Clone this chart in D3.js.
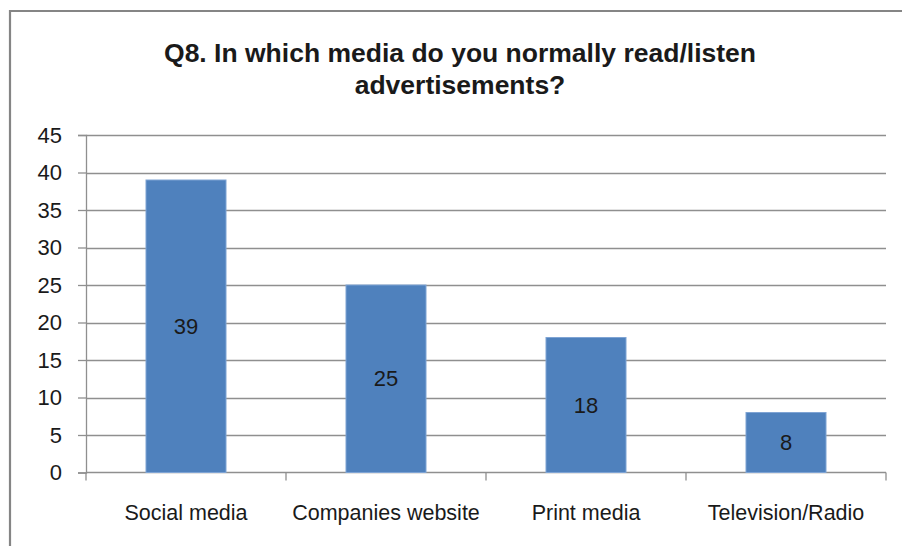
<!DOCTYPE html>
<html>
<head>
<meta charset="utf-8">
<script src="https://cdn.jsdelivr.net/npm/d3@7"></script>
<style>
  html, body { margin: 0; padding: 0; background: #fff; }
  svg { display: block; }
  text { font-family: "Liberation Sans", Arial, sans-serif; fill: #1a1a1a; }
</style>
</head>
<body>
<svg id="chart" width="902" height="546"></svg>
<script>
// Survey answers: preferred media for advertisements
const categories = ["Social media", "Companies website", "Print media", "Television/Radio"];
const counts = [39, 25, 18, 8];
const yTicks = [0, 5, 10, 15, 20, 25, 30, 35, 40, 45];
const titleLines = ["Q8. In which media do you normally read/listen", "advertisements?"];

const svg = d3.select("#chart");
const W = 902, H = 546;
const plot = { left: 86, right: 886, top: 135, bottom: 472.5 };

// Frame (left and top edges of the chart box)
svg.append("path")
  .attr("d", `M10,${H} L10,11 L${W},11`)
  .attr("fill", "none")
  .attr("stroke", "#858585")
  .attr("stroke-width", 2.2);

// Title
const title = svg.append("text")
  .attr("text-anchor", "middle")
  .attr("font-size", 26.5)
  .attr("font-weight", "bold");
title.selectAll("tspan").data(titleLines).join("tspan")
  .attr("x", 460)
  .attr("y", (d, i) => 62 + i * 32)
  .text(d => d);

const x = d3.scaleBand().domain(categories).range([plot.left, plot.right]).paddingInner(0.6).paddingOuter(0.3);
const xOuter = d3.scaleBand().domain(categories).range([plot.left, plot.right]);
const y = d3.scaleLinear().domain([0, 45]).range([plot.bottom, plot.top]);

// Horizontal gridlines
svg.append("g").selectAll("line").data(yTicks.filter(t => t > 0)).join("line")
  .attr("x1", plot.left).attr("x2", plot.right)
  .attr("y1", d => Math.round(y(d)) + 0.5).attr("y2", d => Math.round(y(d)) + 0.5)
  .attr("stroke", "#8f8f8f").attr("stroke-width", 1.3);

// Y axis
const yAxis = svg.append("g")
  .attr("transform", `translate(${plot.left},0)`)
  .call(d3.axisLeft(y).tickValues(yTicks).tickSize(8).tickPadding(16));
yAxis.select(".domain").attr("stroke", "#8f8f8f").attr("stroke-width", 1.3);
yAxis.selectAll(".tick line").attr("stroke", "#8f8f8f").attr("stroke-width", 1.3);
yAxis.selectAll(".tick text").attr("font-size", 22).attr("fill", "#1a1a1a")
  .attr("font-family", "'Liberation Sans', Arial, sans-serif");

// X axis baseline with ticks between categories
const xAxisG = svg.append("g");
xAxisG.append("line")
  .attr("x1", plot.left).attr("x2", plot.right)
  .attr("y1", plot.bottom).attr("y2", plot.bottom)
  .attr("stroke", "#8f8f8f").attr("stroke-width", 1.3);
const boundaries = categories.map(c => xOuter(c)).concat([xOuter(categories[categories.length - 1]) + xOuter.bandwidth()]);
xAxisG.selectAll("line.tk").data(boundaries).join("line")
  .attr("class", "tk")
  .attr("x1", d => d).attr("x2", d => d)
  .attr("y1", plot.bottom).attr("y2", plot.bottom + 8)
  .attr("stroke", "#8f8f8f").attr("stroke-width", 1.3);
xAxisG.selectAll("text").data(categories).join("text")
  .attr("x", d => xOuter(d) + xOuter.bandwidth() / 2)
  .attr("y", 520)
  .attr("text-anchor", "middle")
  .attr("font-size", 21.5)
  .text(d => d);

// Bars
const data = categories.map((c, i) => ({ c, v: counts[i] }));
svg.append("g").selectAll("rect").data(data).join("rect")
  .attr("x", d => x(d.c))
  .attr("width", x.bandwidth())
  .attr("y", d => y(d.v))
  .attr("height", d => y(0) - y(d.v))
  .attr("fill", "#4f81bd")
  .attr("stroke", "#7fa4d4")
  .attr("stroke-width", 1);

// Value labels in the middle of each bar
svg.append("g").selectAll("text").data(data).join("text")
  .attr("x", d => x(d.c) + x.bandwidth() / 2)
  .attr("y", d => y(d.v / 2))
  .attr("dy", "0.35em")
  .attr("text-anchor", "middle")
  .attr("font-size", 22)
  .text(d => d.v);
</script>
</body>
</html>
